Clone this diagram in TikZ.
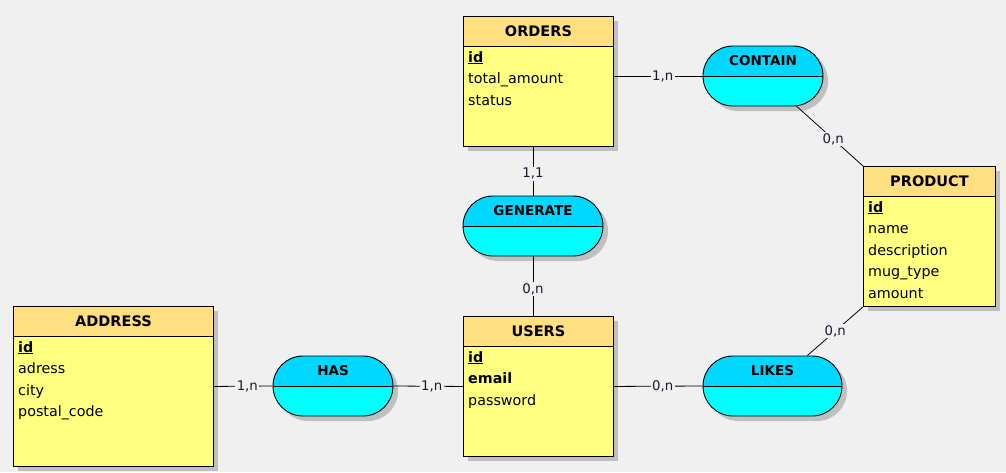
\documentclass[tikz,border=0pt]{standalone}
\usepackage{fontspec}
\setmainfont{DejaVu Sans}
\usetikzlibrary{shapes.misc,shadows,calc}
\definecolor{bg}{HTML}{F0F0F0}
\definecolor{entbody}{HTML}{FFFF80}
\definecolor{enthead}{HTML}{FFDF80}
\definecolor{reltop}{HTML}{00D8FF}
\definecolor{relbot}{HTML}{00FFFF}
\definecolor{shad}{HTML}{C0C0C0}
\definecolor{cardcol}{HTML}{1A1A30}
\begin{document}
\begin{tikzpicture}[x=1pt,y=-1pt,
  shadowed/.style={drop shadow={shadow xshift=5pt,shadow yshift=-5pt,fill=shad,opacity=1}},
  entity/.style={draw=black,line width=0.9pt,fill=entbody,shadowed,anchor=north west,inner sep=0pt,
    path picture={\fill[enthead] (path picture bounding box.north west) rectangle ([yshift=-30pt]path picture bounding box.north east);
      \draw[line width=0.9pt] ([yshift=-30pt]path picture bounding box.north west) -- ([yshift=-30pt]path picture bounding box.north east);}},
  rel/.style={rounded rectangle,draw=black,line width=0.9pt,fill=relbot,minimum height=60pt,inner sep=0pt,shadowed,
    path picture={\fill[reltop] (path picture bounding box.north west) rectangle (path picture bounding box.east);
      \draw[line width=0.9pt] (path picture bounding box.west) -- (path picture bounding box.east);}},
  headtxt/.style={font=\fontsize{14.5}{17}\selectfont\bfseries,inner sep=0pt},
  reltxt/.style={font=\fontsize{13.5}{16}\selectfont\bfseries,inner sep=0pt},
  attr/.style={font=\fontsize{14.3}{21}\selectfont,anchor=base west,inner sep=0pt},
  conn/.style={draw=black,line width=0.8pt},
  card/.style={font=\fontsize{13.3}{16}\selectfont,text=cardcol,fill=bg,inner sep=1.5pt}]

\useasboundingbox[fill=bg] (0,0) rectangle (1006,472);

% entities
\node[entity,minimum width=150pt,minimum height=130pt] (orders) at (463,16) {};
\node[headtxt] (ordersT) at ([yshift=-15pt]orders.north) {ORDERS};
\node[attr] (o1) at (468,62) {\underline{\textbf{id}}};
\node[attr] (o2) at (468,83.5) {total\_amount};
\node[attr] (o3) at (468,105) {status};

\node[entity,minimum width=200pt,minimum height=160pt] (address) at (13,306) {};
\node[headtxt] (addressT) at ([yshift=-15pt]address.north) {ADDRESS};
\node[attr] (a1) at (18,352) {\underline{\textbf{id}}};
\node[attr] (a2) at (18,373.5) {adress};
\node[attr] (a3) at (18,395) {city};
\node[attr] (a4) at (18,416.5) {postal\_code};

\node[entity,minimum width=150pt,minimum height=140pt] (users) at (463,316) {};
\node[headtxt] (usersT) at ([yshift=-15pt]users.north) {USERS};
\node[attr] (u1) at (468,362) {\underline{\textbf{id}}};
\node[attr] (u2) at (468,383.5) {\textbf{email}};
\node[attr] (u3) at (468,405) {password};

\node[entity,minimum width=132pt,minimum height=140pt] (product) at (863,166) {};
\node[headtxt] (productT) at ([yshift=-15pt]product.north) {PRODUCT};
\node[attr] (p1) at (868,212) {\underline{\textbf{id}}};
\node[attr] (p2) at (868,233.5) {name};
\node[attr] (p3) at (868,255) {description};
\node[attr] (p4) at (868,276.5) {mug\_type};
\node[attr] (p5) at (868,298) {amount};

% relationships
\node[rel,minimum width=120pt] (contain) at (763,76) {};
\node[reltxt] (containT) at ([yshift=15pt]contain.center) {CONTAIN};
\node[rel,minimum width=120pt] (has) at (333,386) {};
\node[reltxt] (hasT) at ([yshift=15pt]has.center) {HAS};
\node[rel,minimum width=140pt] (generate) at (533,226) {};
\node[reltxt] (generateT) at ([yshift=15pt]generate.center) {GENERATE};
\node[rel,minimum width=139pt] (likes) at (772.5,386) {};
\node[reltxt] (likesT) at ([yshift=15pt]likes.center) {LIKES};

% connectors
\draw[conn] (contain.west -| orders.east) -- node[card,pos=0.55] {1,n} (contain.west);
\draw[conn] (contain) -- node[card,pos=0.55] {0,n} (product.north west);
\draw[conn] (generate.north |- orders.south) -- node[card,pos=0.55] {1,1} (generate.north);
\draw[conn] (generate.south) -- node[card,pos=0.55] {0,n} (generate.south |- users.north);
\draw[conn] (address.east) -- node[card,pos=0.57] {1,n} (has.west);
\draw[conn] (has.east) -- node[card,pos=0.55] {1,n} (users.west);
\draw[conn] (users.east) -- node[card,pos=0.55] {0,n} (likes.west);
\draw[conn] (likes) -- node[card,pos=0.5] {0,n} (product.south west);
\end{tikzpicture}
\end{document}
